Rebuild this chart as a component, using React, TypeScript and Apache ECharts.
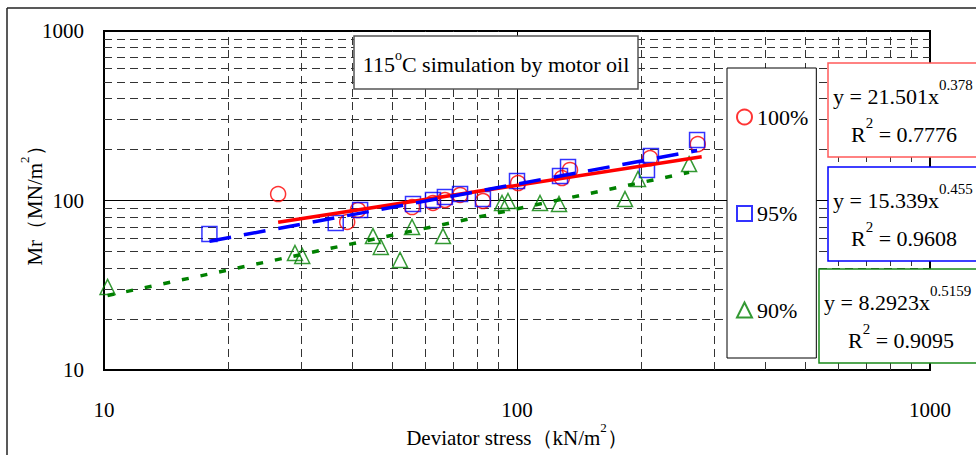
import React, { useEffect, useRef } from 'react';
import * as echarts from 'echarts';

const FONT = "'Liberation Serif', 'Times New Roman', serif";

const seriesNames = ['100%', '95%', '90%'];
const seriesColors = ['#ff0000', '#0000ff', '#008000'];
const seriesSymbols = ['circle', 'rect', 'triangle'];

const pts100: number[][] = [
  [26.4, 109.2], [38.8, 74.7], [41.2, 87.9], [55.7, 91.5], [62.6, 96.7], [66.9, 100.7],
  [72.8, 107.8], [82.7, 99.3], [100.6, 126.8], [128.5, 135.7], [134.4, 151.4], [210, 178], [274, 215],
];
const pts95: number[][] = [
  [18.0, 63.5], [36.4, 73.7], [41.7, 87.9], [56.0, 95.4], [62.6, 100.7], [66.9, 104.9], [72.8, 109.2],
  [82.7, 102], [100, 130.3], [127.1, 139.5], [132.9, 157.6], [206.4, 151.4], [211, 183], [272.9, 227.5],
];
const pts90: number[][] = [
  [10.2, 30.9], [29.0, 49.0], [30.2, 47.1], [44.8, 61.7], [46.8, 53.2], [52.1, 44.6], [55.7, 69.8],
  [66.2, 61.7], [92.0, 96.7], [95.1, 99.3], [113.7, 96.7], [126.4, 95.4], [182.6, 102], [196.3, 134], [261, 164],
];

// trend line end points
const trend100: number[][] = [[26.4, 74.5], [280, 181]];
const trend95: number[][] = [[18, 57.5], [273, 197]];
const trend90: number[][] = [[10.2, 27.5], [261, 146.5]];

const gridMinor = [20, 30, 40, 50, 60, 70, 80, 90, 200, 300, 400, 500, 600, 700, 800, 900];

const eqCoef = ['21.501', '15.339', '8.2923'];
const eqExp = ['0.378', '0.455', '0.5159'];
const eqR2 = ['0.7776', '0.9608', '0.9095'];
const eqBorder = ['#ff5a5a', '#0000ff', '#1a8a1a'];

const titleText = ['115', 'o', 'C simulation by motor oil'];
const xName = ['Deviator stress（kN/m', '2', '）'];
const yName = ['Mr（MN/m', '2', '）'];

export default function App() {
  const ref = useRef<HTMLDivElement>(null);
  useEffect(() => {
    if (!ref.current) return;
    const chart = echarts.init(ref.current, undefined, { renderer: 'svg' });

    const richName = {
      a: { fontFamily: FONT, fontSize: 21, lineHeight: 34, color: '#000' },
      s: { fontFamily: FONT, fontSize: 13, lineHeight: 13, verticalAlign: 'top', color: '#000' },
    };
    const richEq = {
      a: { fontFamily: FONT, fontSize: 22, lineHeight: 38, color: '#000' },
      s: { fontFamily: FONT, fontSize: 15, lineHeight: 15, verticalAlign: 'top', color: '#000' },
    };

    const boxes = [
      { x: 828, y: 63 },
      { x: 828, y: 167 },
      { x: 819, y: 269 },
    ];
    const eqGraphics: any[] = [];
    boxes.forEach((b, i) => {
      eqGraphics.push({
        type: 'rect', z: 100,
        shape: { x: b.x, y: b.y, width: 220, height: 94 },
        style: { fill: '#fff', stroke: eqBorder[i], lineWidth: 1.5 },
      });
      eqGraphics.push({
        type: 'text', z: 101, x: b.x + 5, y: b.y + 33,
        style: {
          text: `{a|y = ${eqCoef[i]}x}{s|${eqExp[i]}}`, rich: richEq,
          textAlign: 'left', textVerticalAlign: 'middle', align: 'left', verticalAlign: 'middle',
        },
      });
      eqGraphics.push({
        type: 'text', z: 101, x: b.x + 23 + (i === 2 ? 6 : 0), y: b.y + 71,
        style: {
          text: `{a|R}{s|2}{a| = ${eqR2[i]}}`, rich: richEq,
          textAlign: 'left', textVerticalAlign: 'middle', align: 'left', verticalAlign: 'middle',
        },
      });
    });

    const scatter = [pts100, pts95, pts90].map((d, i) => ({
      name: seriesNames[i], type: 'scatter', data: d, symbol: seriesSymbols[i], symbolSize: 15, z: 3,
      itemStyle: { color: 'rgba(255,255,255,0)', borderColor: seriesColors[i], borderWidth: 1.5 },
    }));
    const trendStyles: any[] = [
      { type: 'solid', width: 3.5 },
      { type: [22, 13], width: 3.5 },
      { type: [7, 12], width: 3.5 },
    ];
    const trends = [trend100, trend95, trend90].map((d, i) => ({
      name: 'trend ' + seriesNames[i], type: 'line', data: d, showSymbol: false, symbol: 'none', z: 4,
      lineStyle: { color: seriesColors[i], width: trendStyles[i].width, type: trendStyles[i].type },
    }));

    const fmt = (v: number) => String(Math.round(v));

    const option: any = {
      animation: false,
      backgroundColor: '#fff',
      textStyle: { fontFamily: FONT },
      grid: { left: 104, top: 31, right: 46, bottom: 85, show: true, borderColor: '#000', borderWidth: 2 },
      xAxis: {
        type: 'log', logBase: 10, min: 10, max: 1000,
        name: `{a|${xName[0]}}{s|${xName[1]}}{a|${xName[2]}}`,
        nameLocation: 'middle', nameGap: 51, nameMoveOverlap: false,
        nameTextStyle: { fontFamily: FONT, fontSize: 21, color: '#000', rich: richName },
        axisLine: { show: true, lineStyle: { color: '#000', width: 2 } },
        axisTick: { show: false },
        axisLabel: { margin: 29, fontFamily: FONT, fontSize: 21, color: '#000', formatter: fmt },
        splitLine: { show: true, lineStyle: { color: '#000', width: 1 } },
      },
      yAxis: {
        type: 'log', logBase: 10, min: 10, max: 1000,
        name: `{a|${yName[0]}}{s|${yName[1]}}{a|${yName[2]}}`,
        nameLocation: 'middle', nameGap: 52, nameMoveOverlap: false,
        nameTextStyle: { fontFamily: FONT, fontSize: 21, color: '#000', rich: richName },
        axisLine: { show: true, lineStyle: { color: '#000', width: 2 } },
        axisTick: { show: false },
        axisLabel: { margin: 20, fontFamily: FONT, fontSize: 21, color: '#000', formatter: fmt },
        splitLine: { show: true, lineStyle: { color: '#000', width: 1 } },
      },
      legend: {
        orient: 'vertical', left: 727, top: 68, data: seriesNames,
        itemWidth: 15, itemHeight: 15, itemGap: 74.5, padding: [38, 8, 37, 9],
        backgroundColor: '#fff', borderColor: '#000', borderWidth: 1, z: 50,
        textStyle: { fontFamily: FONT, fontSize: 22, color: '#000' },
      },
      graphic: [
        { type: 'line', z: 100, shape: { x1: 7, y1: 8, x2: 976, y2: 8 }, style: { stroke: '#222', lineWidth: 1.5 } },
        { type: 'line', z: 100, shape: { x1: 7, y1: 8, x2: 7, y2: 455 }, style: { stroke: '#222', lineWidth: 1.5 } },
        {
          type: 'rect', z: 100, shape: { x: 354, y: 36, width: 284, height: 53 },
          style: { fill: '#fff', stroke: '#555', lineWidth: 1.5 },
        },
        {
          type: 'text', z: 101, x: 496, y: 64,
          style: {
            text: `{a|${titleText[0]}}{s|${titleText[1]}}{a|${titleText[2]}}`,
            rich: {
              a: { fontFamily: FONT, fontSize: 22, lineHeight: 32, color: '#000' },
              s: { fontFamily: FONT, fontSize: 14, lineHeight: 14, verticalAlign: 'top', color: '#000' },
            },
            textAlign: 'center', textVerticalAlign: 'middle', align: 'center', verticalAlign: 'middle',
          },
        },
        ...eqGraphics,
      ],
      series: [
        {
          name: 'grid', type: 'line', data: [], silent: true, z: 1,
          markLine: {
            silent: true, symbol: ['none', 'none'], z: 1, animation: false,
            label: { show: false },
            lineStyle: { type: [8, 5], color: '#333', width: 1 },
            data: [...gridMinor.map((v) => ({ xAxis: v })), ...gridMinor.map((v) => ({ yAxis: v }))],
          },
        },
        ...scatter,
        ...trends,
      ],
    };
    chart.setOption(option);
    return () => chart.dispose();
  }, []);
  return <div ref={ref} style={{ position: 'fixed', left: 0, top: 0, width: 976, height: 455 }} />;
}
